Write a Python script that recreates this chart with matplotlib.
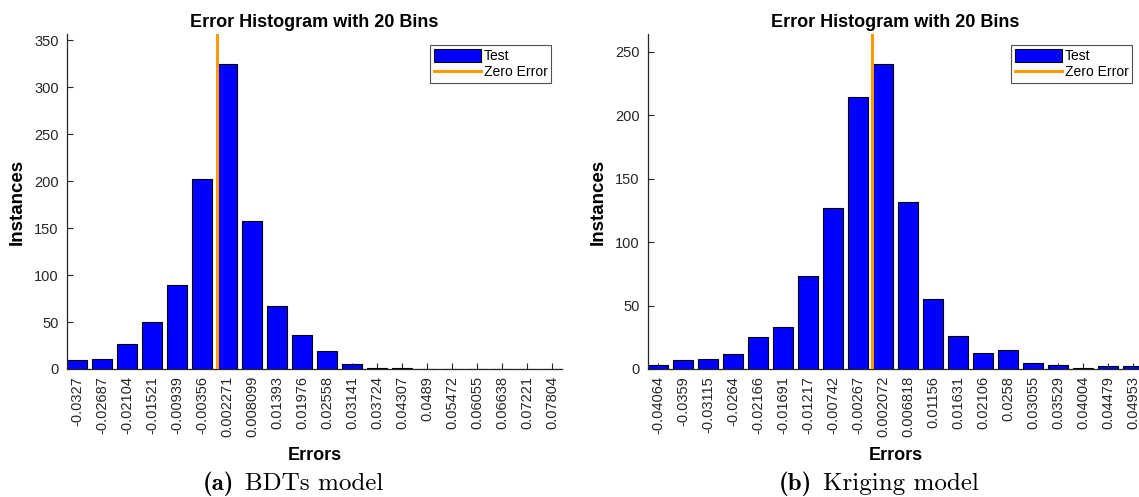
import matplotlib
matplotlib.use("Agg")
import matplotlib.pyplot as plt
import numpy as np

# bin centre labels as printed under each panel
bdt_labels = ["-0.0327", "-0.02687", "-0.02104", "-0.01521", "-0.00939", "-0.00356",
              "0.002271", "0.008099", "0.01393", "0.01976", "0.02558", "0.03141",
              "0.03724", "0.04307", "0.0489", "0.05472", "0.06055", "0.06638",
              "0.07221", "0.07804"]
bdt_counts = [10, 11, 27, 50, 89, 202, 324, 157, 67, 36, 19, 5, 1, 1, 0, 0, 0, 0, 0, 0]

krig_labels = ["-0.04064", "-0.0359", "-0.03115", "-0.0264", "-0.02166", "-0.01691",
               "-0.01217", "-0.00742", "-0.00267", "0.002072", "0.006818", "0.01156",
               "0.01631", "0.02106", "0.0258", "0.03055", "0.03529", "0.04004",
               "0.04479", "0.04953"]
krig_counts = [3, 7, 8, 12, 25, 33, 73, 127, 214, 240, 132, 55, 26, 13, 15, 5, 3, 1, 2, 2]

cap_tags = ["(a)", "(b)"]
cap_names = ["BDTs model", "Kriging model"]

plt.rcParams['font.family'] = ['Liberation Sans', 'DejaVu Sans']

W, H = 1139, 497
fig = plt.figure(figsize=(W / 100, H / 100), dpi=100)
fig.patch.set_facecolor("white")

axcol = "#262626"
bar_blue = "#0000FF"
zero_col = "#FF9A00"


def draw_panel(rect, labels, counts, yticks):
    ax = fig.add_axes(rect)
    centres = np.array([float(s) for s in labels])
    w = (centres[-1] - centres[0]) / (len(centres) - 1)
    counts = np.array(counts)
    ymax = counts.max() * 1.1
    bars = ax.bar(centres, counts, width=0.8 * w, color=bar_blue, edgecolor="black",
                  linewidth=0.8, zorder=2)
    line, = ax.plot([0, 0], [0, ymax], color=zero_col, linewidth=2.2, zorder=3)
    ax.set_xlim(centres[0] - 0.4 * w, centres[-1] + 0.4 * w)
    ax.set_ylim(0, ymax)
    ax.set_xticks(centres)
    ax.set_xticklabels(labels, rotation=90, fontsize=10.5, color=axcol)
    ax.set_yticks(yticks)
    ax.tick_params(axis="y", labelsize=10.5, labelcolor=axcol, pad=6)
    ax.tick_params(axis="x", pad=5)
    ax.tick_params(direction="in", length=4, color=axcol, width=0.8)
    ax.spines["top"].set_visible(False)
    ax.spines["right"].set_visible(False)
    for s in ("left", "bottom"):
        ax.spines[s].set_color(axcol)
        ax.spines[s].set_linewidth(0.9)
    ax.set_title("Error Histogram with 20 Bins", fontsize=13, fontweight="bold", pad=5)
    ax.set_xlabel("Errors", fontsize=13, fontweight="bold", labelpad=7)
    ax.set_ylabel("Instances", fontsize=13.5, fontweight="bold", labelpad=6)
    leg = ax.legend([bars, line], ["Test", "Zero Error"], loc="upper right", fontsize=10,
                    frameon=True, fancybox=False, edgecolor=axcol, borderaxespad=0.8,
                    handlelength=3.4, handleheight=1.1, handletextpad=0.2,
                    borderpad=0.25, labelspacing=0.15)
    leg.get_frame().set_linewidth(0.8)
    return ax


def caption(x_tag_right, tag, name):
    fig.text(x_tag_right / W, 7 / H, tag, fontsize=18, family="cmb10", ha="right", va="baseline")
    fig.text((x_tag_right + 11) / W, 7 / H, name, fontsize=18, family="cmr10", ha="left", va="baseline")


ax_h = (369 - 34) / H
ax_y = 1 - 369 / H
ax_w = (562 - 67) / W
draw_panel([67 / W, ax_y, ax_w, ax_h], bdt_labels, bdt_counts, np.arange(0, 351, 50))
draw_panel([648 / W, ax_y, ax_w, ax_h], krig_labels, krig_counts, np.arange(0, 251, 50))
caption(234, cap_tags[0], cap_names[0])
caption(812, cap_tags[1], cap_names[1])

fig.savefig("out.png", dpi=100)
